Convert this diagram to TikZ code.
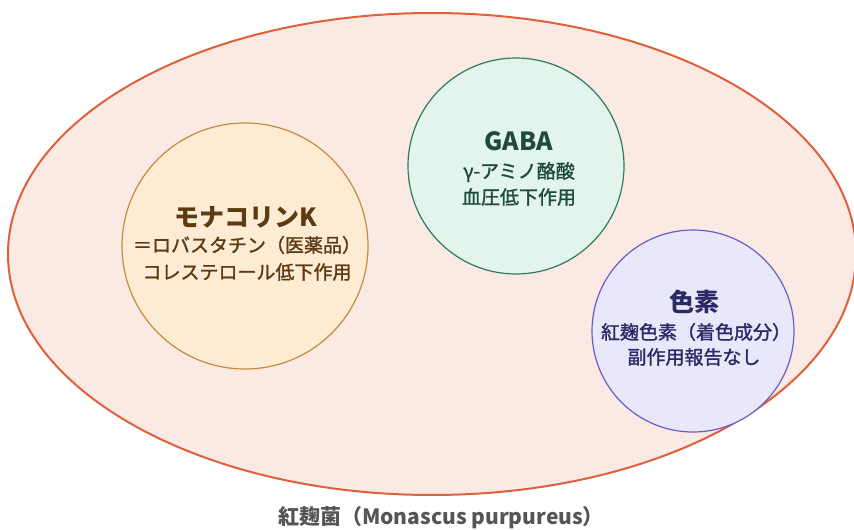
\documentclass[tikz,border=0pt]{standalone}
\usepackage{fontspec}
\setmainfont{Noto Sans CJK JP}
\newfontfamily\cjk{Noto Sans CJK JP}
\newfontfamily\cjkmed[FakeBold=1.4]{Noto Sans CJK JP}
\usetikzlibrary{shapes.geometric}
\definecolor{ellfill}{HTML}{FBEAE4}
\definecolor{elldraw}{HTML}{E0603A}
\definecolor{afill}{HTML}{FDEBD4}
\definecolor{adraw}{HTML}{C58A3A}
\definecolor{atext}{HTML}{5C3A12}
\definecolor{bfill}{HTML}{E2F4EC}
\definecolor{bdraw}{HTML}{2E7A60}
\definecolor{btext}{HTML}{1F4A3C}
\definecolor{cfill}{HTML}{E9E8FB}
\definecolor{cdraw}{HTML}{6A5CC8}
\definecolor{ctext}{HTML}{2B2A66}
\definecolor{labtext}{HTML}{555555}
\tikzset{
  setcircle/.style={circle, draw, line width=1.2pt, inner sep=0pt},
  ttl/.style={font=\cjk\bfseries\fontsize{25}{28}\selectfont, inner sep=0pt},
  body/.style={font=\cjkmed\fontsize{19}{22}\selectfont, inner sep=0pt},
}
\begin{document}
\begin{tikzpicture}[x=1pt,y=-1pt]
\useasboundingbox (0,0) rectangle (854,530);
\node[ellipse, draw=elldraw, fill=ellfill, line width=2pt, minimum width=848pt, minimum height=482pt, inner sep=0pt] (koji) at (432,254) {};
\node[setcircle, draw=adraw, fill=afill, minimum size=246pt] (mona) at (245,246) {};
\node[setcircle, draw=bdraw, fill=bfill, minimum size=216pt] (gaba) at (516,166) {};
\node[setcircle, draw=cdraw, fill=cfill, minimum size=202pt] (pig) at (693,331) {};
\node[ttl, text=atext] (monat) at (246,217) {モナコリンK};
\node[body, text=atext] (mona1) at (247,245) {＝ロバスタチン（医薬品）};
\node[body, text=atext] (mona2) at (247,272) {コレステロール低下作用};
\node[ttl, text=btext] (gabat) at (519,141) {GABA};
\node[body, text=btext] (gaba1) at (519,172) {γ-アミノ酪酸};
\node[body, text=btext] (gaba2) at (519,197) {血圧低下作用};
\node[ttl, text=ctext] (pigt) at (694,302) {色素};
\node[body, text=ctext] (pig1) at (696,332) {紅麹色素（着色成分）};
\node[body, text=ctext] (pig2) at (694,357) {副作用報告なし};
\node[font=\cjk\bfseries\fontsize{21}{24}\selectfont, text=labtext, inner sep=0pt] (lab) at (441,518) {紅麹菌（Monascus purpureus）};
\end{tikzpicture}
\end{document}
